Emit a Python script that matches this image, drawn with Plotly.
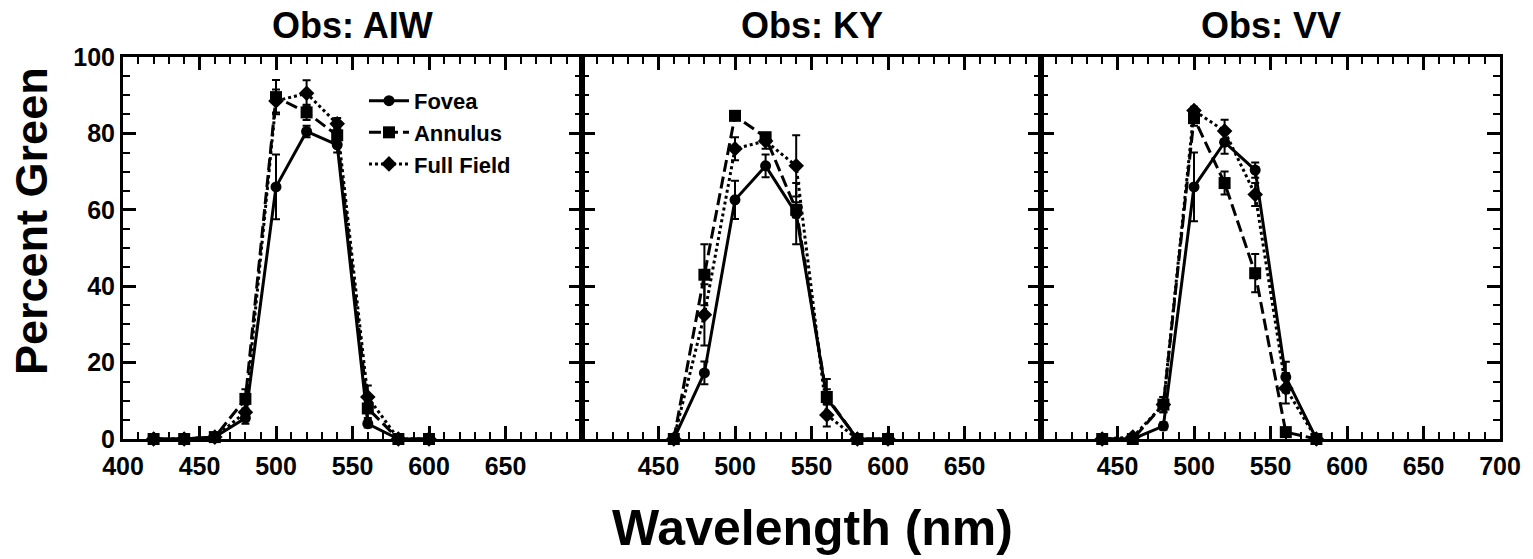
import plotly.graph_objects as go

# ---------------- data ----------------
panel_titles = ["Obs: AIW", "Obs: KY", "Obs: VV"]
series_names = ["Fovea", "Annulus", "Full Field"]

wl_aiw = [420, 440, 460, 480, 500, 520, 540, 560, 580, 600]
fovea_aiw = [0, 0, 0.5, 5.5, 66, 80.5, 77, 4, 0, 0]
fovea_aiw_err = [0, 0, 0.5, 1.5, 8.5, 1.5, 2, 1, 0, 0]
annulus_aiw = [0, 0, 0.5, 10.5, 89.5, 85.5, 79.5, 8, 0, 0]
annulus_aiw_err = [0, 0, 0.5, 2.5, 4.5, 2, 2, 2.5, 0, 0]
full_aiw = [0, 0, 0.5, 7, 88.5, 90.5, 82.5, 11, 0, 0]
full_aiw_err = [0, 0, 0.5, 2, 3, 3.4, 1.5, 3, 0, 0]

wl_ky = [460, 480, 500, 520, 540, 560, 580, 600]
fovea_ky = [0, 17.3, 62.6, 71.5, 59, 10.7, 0, 0]
fovea_ky_err = [0, 3, 5, 3, 8, 5, 0, 0]
annulus_ky = [0, 43, 84.6, 79, 60, 11, 0, 0]
annulus_ky_err = [0, 8, 1, 1, 2, 2, 0, 0]
full_ky = [0, 32.5, 76, 78, 71.5, 6.3, 0, 0]
full_ky_err = [0, 8, 3, 2, 8, 3, 0, 0]

wl_vv = [440, 460, 480, 500, 520, 540, 560, 580]
fovea_vv = [0, 0, 3.4, 66, 77.7, 70.4, 16.2, 0]
fovea_vv_err = [0, 0, 1, 9, 3, 2, 4, 0]
annulus_vv = [0, 0, 9, 84, 67, 43.4, 1.8, 0]
annulus_vv_err = [0, 0, 2, 2, 3, 5, 1, 0]
full_vv = [0, 0.5, 9, 86, 80.6, 64, 13.3, 0]
full_vv_err = [0, 0, 2, 1, 3, 3, 4, 0]

x_ticks_panels = [
    [400, 450, 500, 550, 600, 650],
    [450, 500, 550, 600, 650],
    [450, 500, 550, 600, 650, 700],
]
y_ticks = [0, 20, 40, 60, 80, 100]

panels = [
    (wl_aiw, [(fovea_aiw, fovea_aiw_err), (annulus_aiw, annulus_aiw_err), (full_aiw, full_aiw_err)]),
    (wl_ky, [(fovea_ky, fovea_ky_err), (annulus_ky, annulus_ky_err), (full_ky, full_ky_err)]),
    (wl_vv, [(fovea_vv, fovea_vv_err), (annulus_vv, annulus_vv_err), (full_vv, full_vv_err)]),
]

# ---------------- styles ----------------
FONT = "Arial, Liberation Sans, sans-serif"
styles = [
    dict(dash="solid", symbol="circle", size=11),
    dict(dash="12px,5px", symbol="square", size=12),
    dict(dash="dot", symbol="diamond", size=12),
]

fig = go.Figure()
for p, (wl, sers) in enumerate(panels):
    ax = "" if p == 0 else str(p + 1)
    for s, (vals, errs) in enumerate(sers):
        st = styles[s]
        fig.add_trace(go.Scatter(
            x=wl, y=vals,
            mode="lines+markers",
            name=series_names[s],
            showlegend=(p == 0),
            line=dict(color="black", width=3, dash=st["dash"]),
            marker=dict(color="black", symbol=st["symbol"], size=st["size"]),
            error_y=dict(type="data", array=errs, visible=True, color="black",
                         thickness=2, width=4),
            cliponaxis=False,
            xaxis="x" + ax, yaxis="y" + ax,
        ))

axis_common = dict(
    showline=True, linecolor="black", linewidth=3, mirror="allticks",
    ticks="inside", ticklen=13, tickwidth=2.5, tickcolor="black",
    showgrid=False, zeroline=False,
    tickfont=dict(family=FONT, size=25, color="black", weight="bold"),
)

layout = dict(
    width=1533, height=559,
    margin=dict(l=123, r=28, t=57, b=120),
    plot_bgcolor="white", paper_bgcolor="white",
    font=dict(family=FONT, color="black"),
    legend=dict(x=0.175, y=0.94, xanchor="left", yanchor="top",
                bgcolor="rgba(0,0,0,0)", borderwidth=0,
                font=dict(family=FONT, size=22, color="black", weight="bold"),
                tracegroupgap=0, itemwidth=40),
    annotations=[],
)

doms = [[0, 1 / 3], [1 / 3, 2 / 3], [2 / 3, 1]]
for p in range(3):
    ax = "" if p == 0 else str(p + 1)
    xa = dict(axis_common)
    xa.update(domain=doms[p], range=[400, 700], anchor="y" + ax,
              tickmode="array", tickvals=x_ticks_panels[p], ticklabelstandoff=3,
              minor=dict(tickmode="array", tickvals=list(range(400, 701, 10)),
                         ticks="inside", ticklen=7, tickwidth=2, tickcolor="black"))
    ya = dict(axis_common)
    ya.update(domain=[0, 1], range=[0, 100], anchor="x" + ax,
              tickmode="array", tickvals=y_ticks, showticklabels=(p == 0),
              minor=dict(tickmode="array", tickvals=list(range(0, 101, 5)),
                         ticks="inside", ticklen=7, tickwidth=2, tickcolor="black"))
    layout["xaxis" + ax] = xa
    layout["yaxis" + ax] = ya
    layout["annotations"].append(dict(
        text=panel_titles[p], x=(doms[p][0] + doms[p][1]) / 2, y=1.083,
        xref="paper", yref="paper", xanchor="center", yanchor="middle",
        showarrow=False, font=dict(family=FONT, size=36, color="black", weight="bold")))

layout["annotations"].append(dict(
    text="Percent Green", x=-0.066, y=0.571, xref="paper", yref="paper",
    xanchor="center", yanchor="middle", textangle=-90, showarrow=False,
    font=dict(family=FONT, size=45, color="black", weight="bold")))
layout["annotations"].append(dict(
    text="Wavelength (nm)", x=0.501, y=-0.232, xref="paper", yref="paper",
    xanchor="center", yanchor="middle", showarrow=False,
    font=dict(family=FONT, size=50, color="black", weight="bold")))

fig.update_layout(**layout)
fig.write_html("out.html")
